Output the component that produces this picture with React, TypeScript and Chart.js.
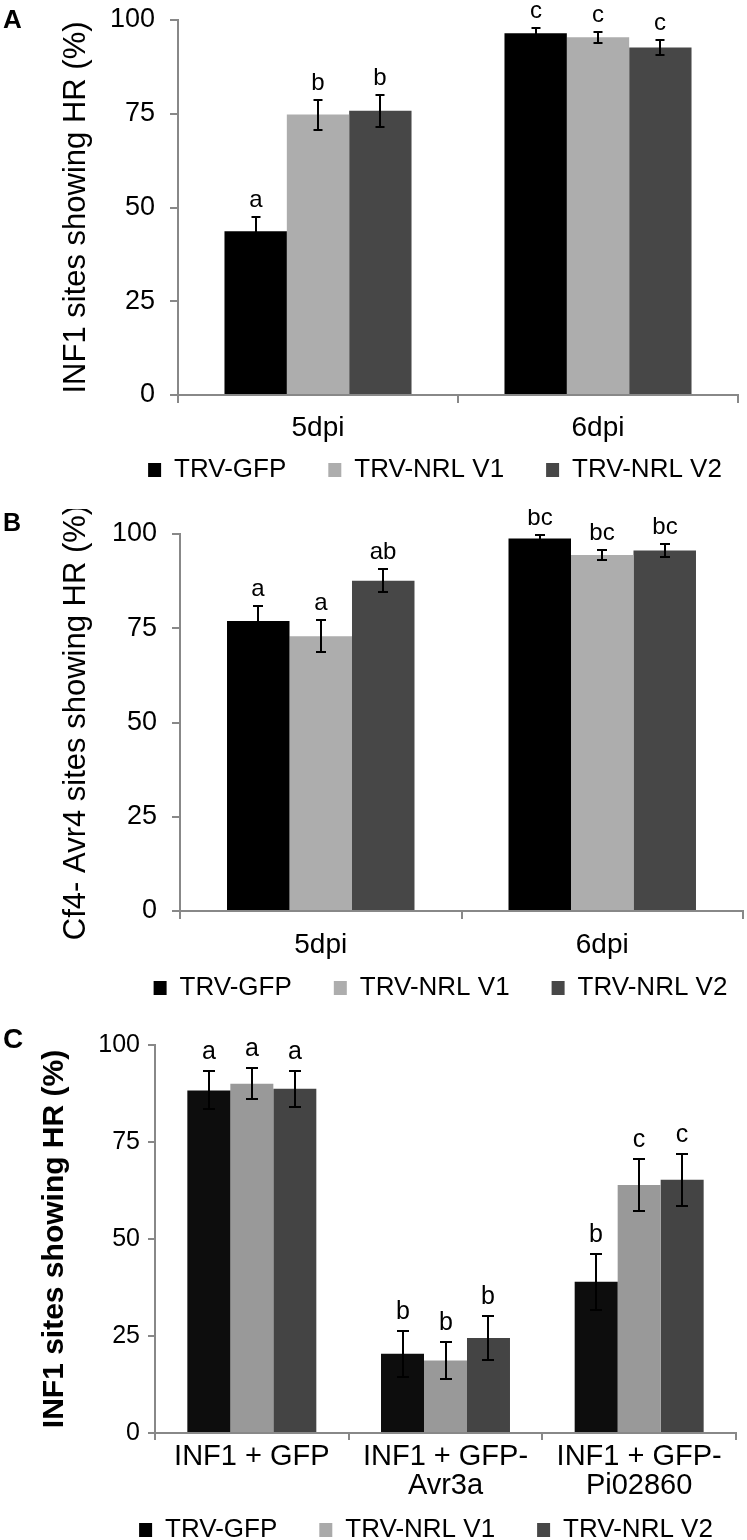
import React, { useEffect, useRef } from 'react';
import { Chart, registerables } from 'chart.js';

Chart.register(...registerables);

const FONT = "'Liberation Sans', Arial, Helvetica, sans-serif";

const seriesNames = ['TRV-GFP', 'TRV-NRL V1', 'TRV-NRL V2'];
const yTicks = [0, 25, 50, 75, 100];

// ---- Panel A ----
const categoriesA = ['5dpi', '6dpi'];
const gfpA = [43.7, 96.5];
const v1A = [74.8, 95.4];
const v2A = [75.8, 92.7];
const gfpErrA = [3.8, 1.3];
const v1ErrA = [4.0, 1.5];
const v2ErrA = [4.3, 2.0];
const gfpLetA = ['a', 'c'];
const v1LetA = ['b', 'c'];
const v2LetA = ['b', 'c'];

// ---- Panel B ----
const categoriesB = ['5dpi', '6dpi'];
const gfpB = [76.9, 98.8];
const v1B = [72.9, 94.4];
const v2B = [87.6, 95.6];
const gfpErrB = [4.1, 1.0];
const v1ErrB = [4.2, 1.4];
const v2ErrB = [3.0, 1.7];
const gfpLetB = ['a', 'bc'];
const v1LetB = ['a', 'bc'];
const v2LetB = ['ab', 'bc'];

// ---- Panel C ----
const categoriesC = ['INF1 + GFP', ['INF1 + GFP-', 'Avr3a'], ['INF1 + GFP-', 'Pi02860']];
const gfpC = [88.3, 20.4, 39.0];
const v1C = [90.0, 18.7, 63.9];
const v2C = [88.7, 24.5, 65.3];
const gfpErrC = [4.9, 5.9, 7.2];
const v1ErrC = [4.0, 4.8, 6.8];
const v2ErrC = [4.6, 5.7, 6.7];
const gfpLetC = ['a', 'b', 'b'];
const v1LetC = ['a', 'b', 'c'];
const v2LetC = ['a', 'b', 'c'];

type PanelCfg = {
  key: string;
  letter: string;
  letterSize: number;
  letterBaseline: number;
  top: number;
  height: number;
  padL: number;
  padR: number;
  padT: number;
  yWidth: number;
  xh: number;
  legendPad: number;
  legendShift: number;
  tickSize: number;
  tickLen: number;
  tickPad: number;
  catSize: number;
  catLH: number;
  catPad: number;
  title: string;
  titleSize: number;
  titleBold: boolean;
  titlePadTop: number;
  catPct: number;
  labelSize: number;
  labelGap: number;
  capHalf: number;
  categories: any[];
  values: number[][];
  errors: number[][];
  letters: string[][];
  colors: string[];
  legendColors: string[];
};

const panels: PanelCfg[] = [
  {
    key: 'A', letter: 'A', letterSize: 26, letterBaseline: 28,
    top: 0, height: 493, padL: 40, padR: 9, padT: 20, yWidth: 138, xh: 20,
    legendPad: 42, legendShift: 46,
    tickSize: 27, tickLen: 8, tickPad: 15,
    catSize: 28, catLH: 1.2, catPad: 8,
    title: 'INF1 sites showing HR (%)', titleSize: 31, titleBold: false, titlePadTop: 17.4,
    catPct: 0.668, labelSize: 24, labelGap: 10, capHalf: 4.5,
    categories: categoriesA,
    values: [gfpA, v1A, v2A], errors: [gfpErrA, v1ErrA, v2ErrA], letters: [gfpLetA, v1LetA, v2LetA],
    colors: ['#000000', '#adadad', '#474747'],
    legendColors: ['#000000', '#adadad', '#474747'],
  },
  {
    key: 'B', letter: 'B', letterSize: 25, letterBaseline: 22,
    top: 509, height: 502, padL: 40, padR: 4, padT: 25, yWidth: 140, xh: 22,
    legendPad: 42, legendShift: 49,
    tickSize: 27, tickLen: 8, tickPad: 15,
    catSize: 28, catLH: 1.2, catPad: 9,
    title: 'Cf4- Avr4 sites showing HR (%)', titleSize: 31, titleBold: false, titlePadTop: 17.9,
    catPct: 0.666, labelSize: 24, labelGap: 10, capHalf: 5,
    categories: categoriesB,
    values: [gfpB, v1B, v2B], errors: [gfpErrB, v1ErrB, v2ErrB], letters: [gfpLetB, v1LetB, v2LetB],
    colors: ['#000000', '#adadad', '#474747'],
    legendColors: ['#000000', '#adadad', '#474747'],
  },
  {
    key: 'C', letter: 'C', letterSize: 28, letterBaseline: 23,
    top: 1025, height: 528, padL: 20, padR: 11, padT: 20, yWidth: 135, xh: 42,
    legendPad: 42, legendShift: 48,
    tickSize: 25, tickLen: 7, tickPad: 8,
    catSize: 29, catLH: 1.0, catPad: 2.5,
    title: 'INF1 sites showing HR (%)', titleSize: 30, titleBold: true, titlePadTop: 17,
    catPct: 0.666, labelSize: 25, labelGap: 12, capHalf: 6,
    categories: categoriesC,
    values: [gfpC, v1C, v2C], errors: [gfpErrC, v1ErrC, v2ErrC], letters: [gfpLetC, v1LetC, v2LetC],
    colors: ['#0d0d0d', '#999999', '#444444'],
    legendColors: ['#000000', '#aaaaaa', '#474747'],
  },
];

function buildConfig(cfg: PanelCfg): any {
  const overlay = {
    id: 'overlay' + cfg.key,
    afterLayout(chart: any) {
      const lg = chart.legend;
      if (lg) {
        lg.left += cfg.legendShift;
        lg.right += cfg.legendShift;
      }
    },
    afterDatasetsDraw(chart: any) {
      const ctx = chart.ctx;
      const y = chart.scales.y;
      ctx.save();
      chart.data.datasets.forEach((ds: any, i: number) => {
        const meta = chart.getDatasetMeta(i);
        meta.data.forEach((bar: any, j: number) => {
          const v = ds.data[j];
          const e = cfg.errors[i][j];
          const x = Math.round(bar.x);
          const yt = Math.round(y.getPixelForValue(v + e));
          const yb = Math.round(y.getPixelForValue(v - e));
          ctx.strokeStyle = '#000';
          ctx.lineWidth = 2;
          ctx.beginPath();
          ctx.moveTo(x, yt);
          ctx.lineTo(x, yb);
          ctx.moveTo(x - cfg.capHalf, yt);
          ctx.lineTo(x + cfg.capHalf, yt);
          ctx.moveTo(x - cfg.capHalf, yb);
          ctx.lineTo(x + cfg.capHalf, yb);
          ctx.stroke();
          ctx.fillStyle = '#000';
          ctx.font = `${cfg.labelSize}px ${FONT}`;
          ctx.textAlign = 'center';
          ctx.textBaseline = 'alphabetic';
          ctx.fillText(cfg.letters[i][j], x, yt - cfg.labelGap);
        });
      });
      ctx.restore();
    },
    afterDraw(chart: any) {
      const ctx = chart.ctx;
      ctx.save();
      ctx.fillStyle = '#000';
      ctx.font = `bold ${cfg.letterSize}px ${FONT}`;
      ctx.textAlign = 'left';
      ctx.textBaseline = 'alphabetic';
      ctx.fillText(cfg.letter, 3, cfg.letterBaseline);
      ctx.restore();
    },
  };

  return {
    type: 'bar',
    data: {
      labels: cfg.categories,
      datasets: cfg.values.map((vals, i) => ({
        label: seriesNames[i],
        data: vals,
        backgroundColor: cfg.colors[i],
        borderWidth: 0,
        barPercentage: 1,
        categoryPercentage: cfg.catPct,
      })),
    },
    options: {
      responsive: false,
      maintainAspectRatio: false,
      animation: false,
      devicePixelRatio: 1,
      events: [],
      layout: { padding: { left: cfg.padL, right: cfg.padR, top: cfg.padT, bottom: 0 } },
      plugins: {
        tooltip: { enabled: false },
        title: { display: false },
        legend: {
          display: true,
          position: 'bottom',
          align: 'center',
          labels: {
            color: '#000',
            font: { size: 26, family: FONT },
            boxWidth: 13,
            boxHeight: 14,
            padding: cfg.legendPad,
            generateLabels: (chart: any) =>
              chart.data.datasets.map((ds: any, i: number) => ({
                text: ds.label,
                fillStyle: cfg.legendColors[i],
                strokeStyle: cfg.legendColors[i],
                lineWidth: 0,
                hidden: false,
                datasetIndex: i,
              })),
          },
        },
      },
      scales: {
        x: {
          type: 'category',
          offset: true,
          grid: {
            display: true,
            offset: true,
            drawOnChartArea: false,
            drawTicks: true,
            tickLength: cfg.tickLen,
            color: '#888888',
            lineWidth: 2,
          },
          border: { display: true, color: '#888888', width: 2 },
          ticks: {
            color: '#000',
            font: { size: cfg.catSize, family: FONT, lineHeight: cfg.catLH },
            padding: cfg.catPad,
            maxRotation: 0,
            minRotation: 0,
            autoSkip: false,
          },
          afterFit: (s: any) => {
            s.height = cfg.xh;
            // let the category labels extend below the (short) axis box without clipping
            s._computeLabelArea = () => null;
          },
        },
        y: {
          min: yTicks[0],
          max: yTicks[yTicks.length - 1],
          afterBuildTicks: (s: any) => {
            s.ticks = yTicks.map((v) => ({ value: v }));
          },
          grid: {
            display: true,
            drawOnChartArea: false,
            drawTicks: true,
            tickLength: cfg.tickLen,
            color: '#888888',
            lineWidth: 2,
          },
          border: { display: true, color: '#888888', width: 2 },
          ticks: {
            color: '#000',
            // small lineHeight only affects layout padding (single-line labels stay centred)
            font: { size: cfg.tickSize, family: FONT, lineHeight: 0.2 },
            padding: cfg.tickPad,
          },
          title: {
            display: true,
            text: cfg.title,
            color: '#000',
            font: { size: cfg.titleSize, family: FONT, weight: cfg.titleBold ? 'bold' : 'normal' },
            padding: { top: cfg.titlePadTop, bottom: 0 },
          },
          afterFit: (s: any) => {
            s.width = cfg.yWidth;
          },
        },
      },
    },
    plugins: [overlay],
  };
}

function Panel({ cfg }: { cfg: PanelCfg }) {
  const ref = useRef<HTMLCanvasElement>(null);
  useEffect(() => {
    if (!ref.current) return;
    const chart = new Chart(ref.current, buildConfig(cfg));
    return () => chart.destroy();
  }, [cfg]);
  return (
    <canvas
      ref={ref}
      width={747}
      height={cfg.height}
      style={{ position: 'absolute', left: 0, top: cfg.top, width: 747, height: cfg.height, display: 'block' }}
    />
  );
}

export default function App() {
  return (
    <div
      style={{
        position: 'absolute',
        left: 0,
        top: 0,
        width: 747,
        height: 1540,
        overflow: 'hidden',
        background: '#ffffff',
      }}
    >
      {panels.map((p) => (
        <Panel key={p.key} cfg={p} />
      ))}
    </div>
  );
}
